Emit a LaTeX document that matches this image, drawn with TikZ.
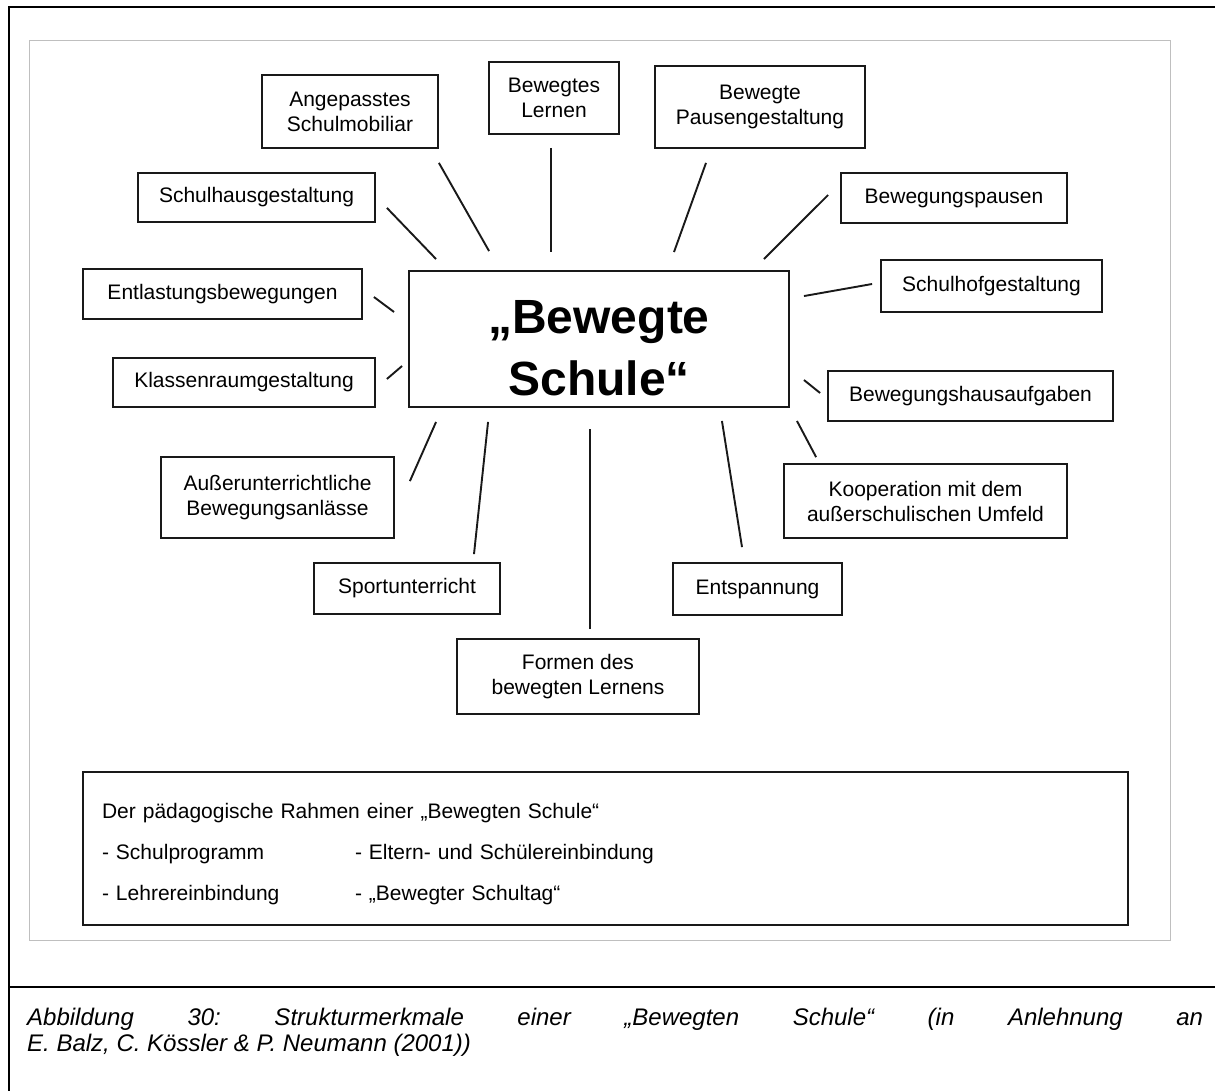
\documentclass[tikz,border=0pt]{standalone}
\usepackage{fontspec}
\setmainfont{Liberation Sans}
\begin{document}
\begin{tikzpicture}[x=1pt,y=-1pt,
  box/.style={draw=black!90, line width=1.8pt, inner sep=0pt, align=center,
    font=\fontsize{21}{25}\selectfont},
  conn/.style={draw=black!90, line width=1.9pt},
  frameline/.style={draw=black, line width=2.6pt},
]
\useasboundingbox (0,0) rectangle (1215,1091);
\fill[white] (0,0) rectangle (1215,1091);
% outer table frame
\draw[frameline] (1216,7) -- (9,7) -- (9,1092);
\draw[frameline] (9,987) -- (1216,987);
% grey picture frame
\draw[gray!50, line width=1pt] (29,41) rectangle (1170,940);

% centre
\node[draw=black!90, line width=1.9pt, inner sep=0pt, minimum width=380pt,
  minimum height=136pt, align=center,
  font=\bfseries\fontsize{48}{62}\selectfont] (c) at (599,339)
  {\rule{0pt}{52pt}„Bewegte\\Schule“};

% satellites
\node[box, minimum width=176pt, minimum height=73pt] (ang) at (350,111.5) {Angepasstes\\Schulmobiliar};
\node[box, minimum width=130pt, minimum height=72pt] (ler) at (554,98) {Bewegtes\\Lernen};
\node[box, minimum width=210pt, minimum height=82pt] (pau) at (760,107) {Bewegte\\Pausengestaltung};
\node[box, minimum width=237pt, minimum height=49pt] (sha) at (256.5,197.5) {Schulhausgestaltung};
\node[box, minimum width=226pt, minimum height=50pt] (bwp) at (954,198) {Bewegungspausen};
\node[box, minimum width=279pt, minimum height=50pt] (ent) at (222.5,294) {Entlastungsbewegungen};
\node[box, minimum width=221pt, minimum height=52pt] (sho) at (991.5,286) {Schulhofgestaltung};
\node[box, minimum width=262pt, minimum height=49pt] (kla) at (244,382.5) {Klassenraumgestaltung};
\node[box, minimum width=285pt, minimum height=50pt] (bha) at (970.5,396) {Bewegungshausaufgaben};
\node[box, minimum width=233pt, minimum height=81pt] (aus) at (277.5,497.5) {Außerunterrichtliche\\Bewegungsanlässe};
\node[box, minimum width=283pt, minimum height=74pt] (koo) at (925.5,501) {Kooperation mit dem\\außerschulischen Umfeld};
\node[box, minimum width=186pt, minimum height=51pt] (spo) at (407,588.5) {Sportunterricht};
\node[box, minimum width=169pt, minimum height=52pt] (ens) at (757.5,589) {Entspannung};
\node[box, minimum width=242pt, minimum height=75pt] (for) at (578,676.5) {Formen des\\bewegten Lernens};

% connectors
\draw[conn] ([shift={(11,-15)}]sha.south east) -- ([shift={(28,-11)}]c.north west);
\draw[conn] ([shift={(0,14)}]ang.south east) -- ([shift={(81,-19)}]c.north west);
\draw[conn] ([shift={(-3,13)}]ler.south) -- ([shift={(-48,-18)}]c.north);
\draw[conn] ([shift={(-54,14)}]pau.south) -- ([shift={(75,-18)}]c.north);
\draw[conn] ([shift={(-12,-3)}]bwp.west) -- ([shift={(-26,-11)}]c.north east);
\draw[conn] ([shift={(-8,-2)}]sho.west) -- ([shift={(14,26)}]c.north east);
\draw[conn] ([shift={(-7,-3)}]bha.west) -- ([shift={(14,41)}]c.east);
\draw[conn] ([shift={(33,-6)}]koo.north west) -- ([shift={(7,13)}]c.south east);
\draw[conn] ([shift={(-15.5,-15)}]ens.north) -- ([shift={(-68,13)}]c.south east);
\draw[conn] ([shift={(12,-9)}]for.north) -- ([shift={(-9,21)}]c.south);
\draw[conn] ([shift={(67,-8)}]spo.north) -- ([shift={(80,14)}]c.south west);
\draw[conn] ([shift={(15,25)}]aus.north east) -- ([shift={(28,14)}]c.south west);
\draw[conn] ([shift={(11,-3.5)}]kla.east) -- ([shift={(-6,27)}]c.west);
\draw[conn] ([shift={(11,3)}]ent.east) -- ([shift={(-14,-27)}]c.west);

% pedagogical frame
\node[draw=black!90, line width=1.9pt, inner xsep=19pt, inner ysep=0pt,
  minimum width=1045pt, minimum height=153pt, text width=1007pt, align=left,
  font=\fontsize{21}{41}\selectfont] (rahmen) at (605.5,848.5)
  {\rule{0pt}{25.4pt}Der pädagogische Rahmen einer „Bewegten Schule“\\
   \makebox[253pt][l]{- Schulprogramm}- Eltern- und Schülereinbindung\\
   \makebox[253pt][l]{- Lehrereinbindung}- „Bewegter Schultag“};

% caption
\node[anchor=north west, inner sep=0pt, text width=1176pt, align=justify,
  font=\itshape\fontsize{24}{26}\selectfont] (cap) at (27,1008)
  {\tolerance=10000\hbadness=10000\frenchspacing\noindent
   Abbildung 30: Strukturmerkmale einer „Bewegten Schule“ (in Anlehnung an\linebreak
   E. Balz, C. Kössler \& P. Neumann (2001))};
\end{tikzpicture}
\end{document}
